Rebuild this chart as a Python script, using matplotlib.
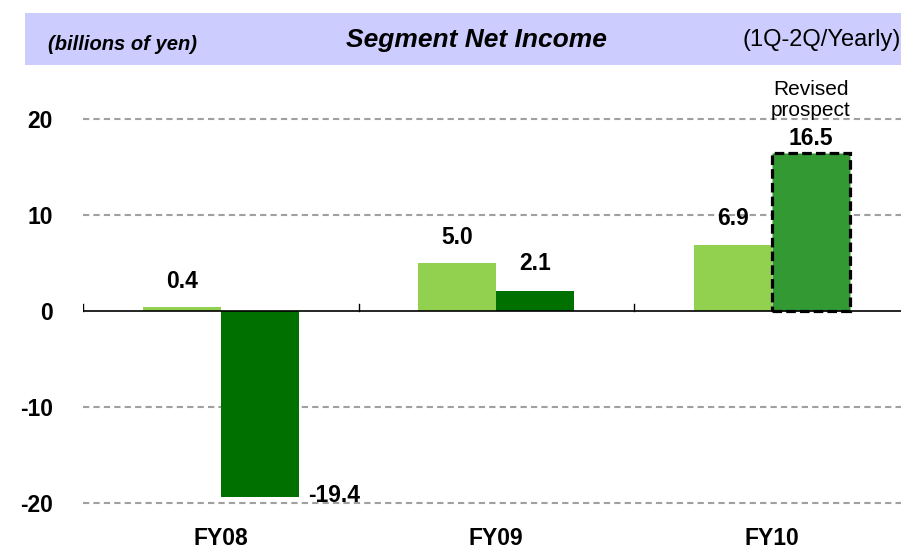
import matplotlib
matplotlib.use("Agg")
import matplotlib.pyplot as plt
from matplotlib.patches import Rectangle
import numpy as np

plt.rcParams['font.family'] = ['Liberation Sans', 'DejaVu Sans']

categories = ["FY08", "FY09", "FY10"]
first_half = [0.4, 5.0, 6.9]
yearly = [-19.4, 2.1, 16.5]
yticks = [-20, -10, 0, 10, 20]
title = "Segment Net Income"
unit_label = "(billions of yen)"
period_label = "(1Q-2Q/Yearly)"
note = "Revised\nprospect"

W, H = 901, 552
fig = plt.figure(figsize=(W / 100, H / 100), dpi=100)

# header band
band = Rectangle((25 / W, 1 - 65 / H), 1 - 25 / W, 52 / H, transform=fig.transFigure,
                 facecolor="#CCCCFF", edgecolor="none", zorder=0)
fig.patches.append(band)
fig.text(48 / W, 1 - 44 / H, unit_label, fontsize=14.5, fontweight="bold", fontstyle="italic",
         ha="left", va="center")
fig.text(476 / W, 1 - 40 / H, title, fontsize=19, fontweight="bold", fontstyle="italic",
         ha="center", va="center")
fig.text(742 / W, 1 - 40 / H, period_label, fontsize=17, ha="left", va="center")

# axes: x from 83 px to right edge, y: 20 at 118 px, -20 at 502 px
ax_top_px, ax_bot_px = 90, 521
ax_left = 83 / W
ax = fig.add_axes([ax_left, 1 - ax_bot_px / H, 1 - ax_left, (ax_bot_px - ax_top_px) / H])
px_per_cat = 275.5
xmax = (W - 83) / px_per_cat - 0.5
ax.set_xlim(-0.5, xmax)
ppu = (502 - 118) / 40.0
ytop = (311 - ax_top_px) / ppu
ybot = -(ax_bot_px - 311) / ppu
ax.set_ylim(ybot, ytop)

x = np.arange(len(categories))
bw = 78 / px_per_cat
light = "#92D050"
dark = "#007000"
prospect = "#339933"

ax.bar(x - bw / 2, first_half, width=bw, color=light, zorder=3)
dark_colors = [dark, dark, prospect]
bars2 = ax.bar(x + bw / 2, yearly, width=bw, color=dark_colors, zorder=3)
bars2[2].set_edgecolor("black")
bars2[2].set_linestyle((0, (3, 1.3)))
bars2[2].set_linewidth(2.3)

for yv in [-20, -10, 10, 20]:
    ax.axhline(yv, color="#A0A0A0", linestyle=(0, (3, 2)), linewidth=1.5, zorder=1)
ax.axhline(0, color="black", linewidth=1.2, zorder=4)
for b in [-0.5, 0.5, 1.5, 2.5]:
    ax.plot([b, b], [0, 0.7], color="black", linewidth=1, zorder=4, clip_on=True)

for s in ax.spines.values():
    s.set_visible(False)
ax.set_xticks(x)
ax.set_xticklabels(categories, fontsize=16.5, fontweight="bold")
ax.tick_params(axis="x", length=0, pad=4)
ax.set_yticks(yticks)
ax.set_yticklabels([str(v) for v in yticks], fontsize=16.5, fontweight="bold")
ax.tick_params(axis="y", length=0, pad=21.6)

fs = 16.5
for i, v in enumerate(first_half):
    ax.text(x[i] - bw / 2, v + 1.5, f"{v:.1f}", ha="center", va="bottom",
            fontsize=fs, fontweight="bold", zorder=5)
for i, v in enumerate(yearly):
    if v < 0:
        ax.text(x[i] + bw + 0.033, v + 0.2, f"{v:.1f}", ha="left", va="center",
                fontsize=fs, fontweight="bold", zorder=5)
    elif i == 2:
        ax.text(x[i] + bw / 2, v + 0.3, f"{v:.1f}", ha="center", va="bottom",
                fontsize=fs, fontweight="bold", zorder=5)
    else:
        ax.text(x[i] + bw / 2, v + 1.7, f"{v:.1f}", ha="center", va="bottom",
                fontsize=fs, fontweight="bold", zorder=5)
ax.text(x[2] + bw / 2, 19.9, note, ha="center", va="bottom",
        fontsize=15, linespacing=1.12, zorder=5)

fig.savefig("out.png", dpi=100)
